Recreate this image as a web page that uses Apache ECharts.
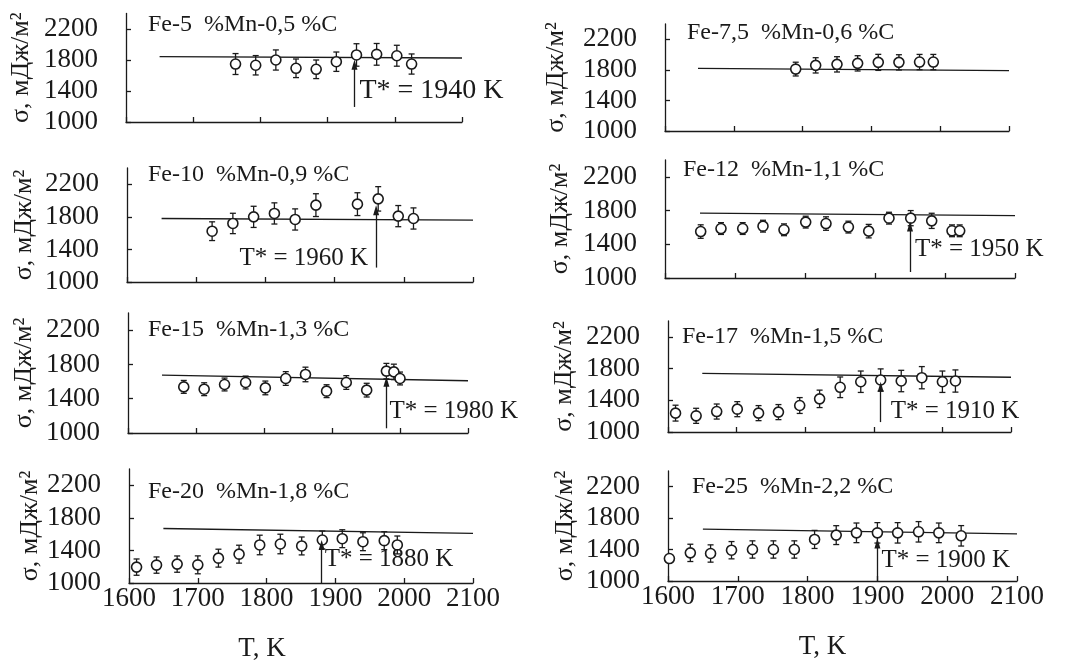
<!DOCTYPE html>
<html><head><meta charset="utf-8">
<script src="https://cdn.jsdelivr.net/npm/echarts@6/dist/echarts.min.js"></script>
<style>html,body{margin:0;padding:0;background:#fff}#c{width:1065px;height:663px}</style>
</head><body><div id="c"></div>
<script>
// ---------- data ----------
const X_TICKS = [1600, 1700, 1800, 1900, 2000, 2100];
const Y_TICKS = [1000, 1400, 1800, 2200];
const TITLES = ['Fe-5  %Mn-0,5 %C', 'Fe-7,5  %Mn-0,6 %C', 'Fe-10  %Mn-0,9 %C', 'Fe-12  %Mn-1,1 %C',
                'Fe-15  %Mn-1,3 %C', 'Fe-17  %Mn-1,5 %C', 'Fe-20  %Mn-1,8 %C', 'Fe-25  %Mn-2,2 %C'];
const Y_NAME = 'σ, мДж/м²';
const X_NAME = 'T, K';

const T_FE5 = [1763, 1793, 1823, 1853, 1883, 1913, 1943, 1973, 2003, 2025];
const S_FE5 = [1748, 1732, 1800, 1693, 1680, 1778, 1865, 1873, 1855, 1748];
const E_FE5 = [135, 125, 130, 120, 120, 125, 145, 140, 135, 130];
const LINE_FE5 = [[1650, 1843], [2100, 1825]];

const T_FE75 = [1790, 1819, 1850, 1880, 1910, 1940, 1970, 1990];
const S_FE75 = [1810, 1859, 1872, 1885, 1898, 1898, 1902, 1902];
const E_FE75 = [90, 100, 100, 100, 105, 100, 100, 100];
const LINE_FE75 = [[1648, 1820], [2100, 1790]];

const T_FE10 = [1723, 1753, 1783, 1813, 1843, 1873, 1933, 1963, 1992, 2014];
const S_FE10 = [1624, 1719, 1800, 1842, 1768, 1944, 1956, 2021, 1809, 1780];
const E_FE10 = [115, 125, 130, 130, 130, 140, 140, 150, 130, 130];
const LINE_FE10 = [[1650, 1780], [2100, 1760]];

const T_FE12 = [1651, 1680, 1711, 1740, 1770, 1801, 1830, 1862, 1891, 1920, 1951, 1981, 2010, 2021];
const S_FE12 = [1551, 1587, 1587, 1615, 1572, 1663, 1646, 1604, 1556, 1710, 1710, 1678, 1560, 1560];
const E_FE12 = [80, 70, 70, 70, 70, 70, 80, 70, 80, 70, 90, 90, 70, 70];
const LINE_FE12 = [[1650, 1770], [2100, 1740]];

const T_FE15 = [1682, 1712, 1742, 1773, 1802, 1832, 1861, 1892, 1921, 1951, 1980, 1991, 2000];
const S_FE15 = [1538, 1511, 1566, 1589, 1526, 1636, 1683, 1488, 1589, 1500, 1722, 1713, 1636];
const E_FE15 = [75, 75, 75, 75, 80, 80, 85, 75, 80, 80, 90, 90, 75];
const LINE_FE15 = [[1650, 1675], [2100, 1610]];

const T_FE17 = [1611, 1641, 1671, 1701, 1732, 1761, 1792, 1821, 1851, 1881, 1910, 1940, 1970, 2000, 2019];
const S_FE17 = [1238, 1204, 1258, 1288, 1238, 1251, 1334, 1418, 1564, 1634, 1656, 1643, 1685, 1634, 1643];
const E_FE17 = [100, 95, 95, 95, 95, 95, 100, 110, 130, 135, 140, 135, 140, 135, 140];
const LINE_FE17 = [[1650, 1740], [2100, 1690]];

const T_FE20 = [1611, 1640, 1670, 1700, 1730, 1760, 1790, 1820, 1851, 1881, 1910, 1940, 1971, 1990];
const S_FE20 = [1195, 1220, 1232, 1223, 1305, 1354, 1467, 1479, 1455, 1528, 1544, 1507, 1520, 1467];
const E_FE20 = [100, 100, 100, 110, 110, 110, 120, 120, 110, 110, 110, 110, 110, 110];
const LINE_FE20 = [[1650, 1670], [2100, 1610]];

const T_FE25 = [1602, 1632, 1661, 1691, 1721, 1751, 1781, 1810, 1841, 1870, 1900, 1929, 1959, 1988, 2020];
const S_FE25 = [1286, 1358, 1350, 1392, 1401, 1401, 1401, 1529, 1584, 1613, 1613, 1613, 1626, 1613, 1575];
const E_FE25 = [0, 110, 110, 110, 110, 110, 110, 115, 120, 125, 130, 130, 130, 125, 130];
const LINE_FE25 = [[1650, 1660], [2100, 1600]];

const T_STAR = [1940, null, 1960, 1950, 1980, 1910, 1880, 1900];

const SERIES_T = [T_FE5, T_FE75, T_FE10, T_FE12, T_FE15, T_FE17, T_FE20, T_FE25];
const SERIES_S = [S_FE5, S_FE75, S_FE10, S_FE12, S_FE15, S_FE17, S_FE20, S_FE25];
const SERIES_E = [E_FE5, E_FE75, E_FE10, E_FE12, E_FE15, E_FE17, E_FE20, E_FE25];
const LINES = [LINE_FE5, LINE_FE75, LINE_FE10, LINE_FE12, LINE_FE15, LINE_FE17, LINE_FE20, LINE_FE25];

// ---------- layout (positions / sizes only) ----------
const LAYOUT = [
  {grid: [126, 13.5, 336, 108.5], title: [148, 25], nameGap: 92, arrow: [1194, 1740], lab: [1400, 'right', 5], labFont: 28},
  {grid: [665, 24, 344, 107], title: [687, 33], nameGap: 96},
  {grid: [127, 168, 346, 114], title: [148, 175], nameGap: 90, arrow: [1177, 1882], lab: [1288, 'left', 8], labFont: 25},
  {grid: [665, 160, 350, 118], title: [683, 170], nameGap: 92, arrow: [1071, 1611], lab: [1335, 'right', 5], labFont: 25},
  {grid: [128, 313, 340, 120], title: [148, 330], nameGap: 91, arrow: [1055, 1597], lab: [1254, 'right', 3], labFont: 25},
  {grid: [668, 321, 343, 111], title: [682, 337], nameGap: 91, arrow: [1125, 1572], lab: [1258, 'right', 10], labFont: 25},
  {grid: [129, 469, 344, 114], title: [148, 492], nameGap: 86, arrow: [1000, 1467], lab: [1284, 'right', 3], labFont: 25, xShift: 78},
  {grid: [668, 471, 349, 110], title: [692, 487], nameGap: 90, arrow: [1000, 1478], lab: [1264, 'right', 4], labFont: 25, xShift: 40}
];

const FONT = '"Liberation Serif", "DejaVu Serif", serif';
const INK = '#1a1a1a';

function renderErr(params, api) {
  const x = api.value(0), y = api.value(1), e = api.value(2);
  const p1 = api.coord([x, y + e]), p2 = api.coord([x, y - e]);
  const w = 3;
  const st = {stroke: INK, lineWidth: 1.3};
  return {type: 'group', children: [
    {type: 'line', shape: {x1: p1[0], y1: p1[1], x2: p2[0], y2: p2[1]}, style: st},
    {type: 'line', shape: {x1: p1[0] - w, y1: p1[1], x2: p1[0] + w, y2: p1[1]}, style: st},
    {type: 'line', shape: {x1: p2[0] - w, y1: p2[1], x2: p2[0] + w, y2: p2[1]}, style: st}
  ]};
}

function makeLabelRenderer(l, text) {
  return function (params, api) {
    const p = api.coord([api.value(0), api.value(1)]);
    const right = l.lab[1] === 'right';
    return {type: 'text', x: p[0] + (right ? l.lab[2] : -l.lab[2]), y: p[1],
      style: {text: text, fill: INK, fontSize: l.labFont, fontFamily: FONT,
        align: right ? 'left' : 'right', verticalAlign: 'middle'}};
  };
}

const grids = [], xAxes = [], yAxes = [], titles = [], series = [];
LAYOUT.forEach((l, i) => {
  const bottom = i >= 6;
  grids.push({left: l.grid[0], top: l.grid[1], width: l.grid[2], height: l.grid[3]});
  titles.push({text: TITLES[i], left: l.title[0], top: l.title[1] - 12, padding: 0,
    textStyle: {fontSize: 24, fontWeight: 'normal', color: INK, fontFamily: FONT, lineHeight: 24}});
  xAxes.push({type: 'value', gridIndex: i, min: X_TICKS[0], max: X_TICKS[X_TICKS.length - 1], interval: 100,
    axisLine: {show: true, lineStyle: {color: INK, width: 1.3}},
    axisTick: {show: true, inside: true, length: 5, lineStyle: {color: INK, width: 1.3}},
    axisLabel: {show: bottom, margin: 2, fontSize: 27, color: INK, fontFamily: FONT, formatter: v => String(v)},
    splitLine: {show: false},
    name: bottom ? X_NAME : '', nameLocation: 'middle', nameGap: 52,
    nameTextStyle: {fontSize: 27, color: INK, fontFamily: FONT, padding: [0, l.xShift || 0, 0, 0]}});
  yAxes.push({type: 'value', gridIndex: i, min: 1000, max: 2400, interval: 400,
    axisLine: {show: true, lineStyle: {color: INK, width: 1.3}},
    axisTick: {show: true, inside: true, length: 5, customValues: Y_TICKS, lineStyle: {color: INK, width: 1.3}},
    axisLabel: {show: true, customValues: Y_TICKS, margin: 28, fontSize: 27, color: INK, fontFamily: FONT,
      formatter: v => String(v)},
    splitLine: {show: false},
    name: Y_NAME, nameLocation: 'middle', nameGap: l.nameGap,
    nameTextStyle: {fontSize: 26, color: INK, fontFamily: FONT}});

  series.push({type: 'line', xAxisIndex: i, yAxisIndex: i, data: LINES[i], symbol: 'none',
    lineStyle: {color: INK, width: 1.4}, z: 2, silent: true});
  const T = SERIES_T[i], S = SERIES_S[i], E = SERIES_E[i];
  series.push({type: 'custom', xAxisIndex: i, yAxisIndex: i, renderItem: renderErr, clip: false,
    data: T.map((t, k) => [t, S[k], E[k]]), encode: {x: 0, y: 1}, z: 3, silent: true});
  series.push({type: 'scatter', xAxisIndex: i, yAxisIndex: i, data: T.map((t, k) => [t, S[k]]),
    symbol: 'circle', symbolSize: 10, clip: false,
    itemStyle: {color: '#fff', borderColor: INK, borderWidth: 1.6, opacity: 1}, z: 4, silent: true});
  if (T_STAR[i]) {
    series.push({type: 'line', xAxisIndex: i, yAxisIndex: i, data: [], z: 5, silent: true,
      markLine: {silent: true, symbol: ['none', 'triangle'], symbolSize: [6, 10],
        lineStyle: {color: INK, width: 1.3, type: 'solid'}, label: {show: false},
        data: [[{coord: [T_STAR[i], l.arrow[0]]}, {coord: [T_STAR[i], l.arrow[1]]}]]}});
    series.push({type: 'custom', xAxisIndex: i, yAxisIndex: i, clip: false, z: 6, silent: true,
      data: [[T_STAR[i], l.lab[0]]], encode: {x: 0, y: 1},
      renderItem: makeLabelRenderer(l, 'T* = ' + T_STAR[i] + ' K')});
  }
});

const chart = echarts.init(document.getElementById('c'), null, {renderer: 'canvas'});
chart.setOption({
  animation: false,
  backgroundColor: '#fff',
  textStyle: {fontFamily: FONT},
  title: titles, grid: grids, xAxis: xAxes, yAxis: yAxes, series: series
});
</script></body></html>
